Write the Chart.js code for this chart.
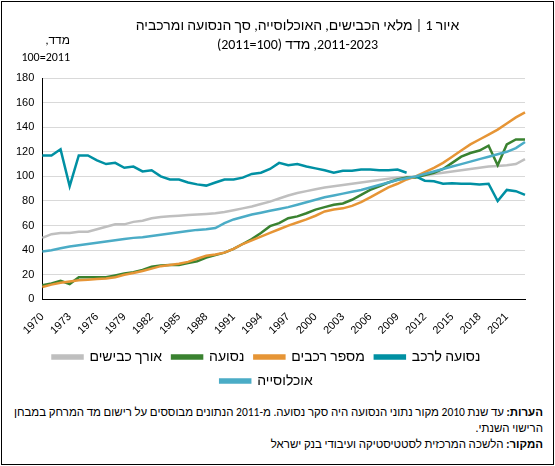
<!DOCTYPE html>
<html>
<head>
<meta charset="utf-8">
<script src="https://cdn.jsdelivr.net/npm/chart.js@4"></script>
<style>
  body { margin: 0; font-family: Calibri, "Liberation Sans", Arial, sans-serif; }
  #frame { position: relative; width: 551px; height: 462px; border: 1px solid #000; margin: 1px; }
  #wrap { position: absolute; left: 0; top: 0; width: 551px; height: 396px; }
  #title { position: absolute; left: 60px; right: 20px; top: 14px; direction: rtl; text-align: center; font-size: 14px; line-height: 19px; }
  #unit { position: absolute; left: 8px; top: 30px; font-size: 12px; line-height: 17px; direction: rtl; text-align: right; width: 60px; }
  #notes { position: absolute; right: 10px; top: 402px; width: 530px; direction: rtl; font-size: 11.5px; line-height: 16px; }
</style>
</head>
<body>
<div id="frame">
  <div id="wrap"><canvas id="chart"></canvas></div>
  <div id="title">איור 1 | מלאי הכבישים, האוכלוסייה, סך הנסועה ומרכביה<br>2011-2023, מדד (100=2011)</div>
  <div id="unit">מדד,<br><span dir="ltr">100=2011</span></div>
  <div id="notes">
    <div><b>הערות:</b> עד שנת 2010 מקור נתוני הנסועה היה סקר נסועה. מ-2011 הנתונים מבוססים על רישום מד המרחק במבחן הרישוי השנתי.</div>
    <div><b>המקור:</b> הלשכה המרכזית לסטטיסטיקה ועיבודי בנק ישראל</div>
  </div>
</div>
<script>
const years = []
for (let y = 1970; y <= 2023; y++) years.push(String(y))

const population = [39, 40, 41.5, 43, 44, 45, 46, 47, 48, 49, 50, 50.5, 51.5, 52.5, 53.5, 54.5, 55.5, 56.5, 57, 58,
  62, 65, 67, 69, 70.5, 72, 73.5, 75, 77, 79, 81, 83, 84.5, 86, 87.5, 89, 91, 93, 95, 97, 98.5,
  100, 102, 104, 106, 108, 110, 112, 114, 116, 118, 120, 123, 128]
const perVehicle = [117, 117, 122, 92, 117, 117, 113, 110, 111, 107, 108, 104, 105, 100, 97.5, 97.5, 95, 93.5, 92.5, 95,
  97.5, 97.5, 99, 102, 103, 106, 111, 109, 110, 108, 106.5, 105, 103, 104.5, 104.5, 105.5, 105.5, 105, 105, 105.5, 103,
  100, 96.5, 96, 94, 94.5, 94, 94, 93.5, 94, 80, 89, 88, 85]
const vehicles = [10, 12, 13.5, 14.5, 15.5, 16, 16.5, 17, 18, 20, 21.5, 23, 25, 27, 28, 29, 30.5, 33, 35.5, 36.5,
  38, 41, 45, 48, 51, 54, 57, 60, 62.5, 65, 68, 71.5, 73, 74, 76, 79, 83, 87, 91, 94, 97.5,
  100, 103.5, 107, 111, 116, 121, 126, 130, 134, 138, 143, 148, 152]
const travel = [11.5, 13, 15, 12.5, 18, 18, 18, 18, 19.5, 21, 22, 24, 26.5, 27.5, 28, 28, 29.5, 31, 34, 36,
  38, 41, 45, 49, 54, 59.5, 62, 66, 67.5, 70, 73, 75, 77, 78, 81, 85, 89, 92, 95, 97.5, 99,
  99, 101, 103, 106, 111, 116, 119, 121, 125, 109, 126, 130, 130]
const roadLength = [50, 53, 54, 54, 55, 55, 57, 59, 61, 61, 63, 64, 66, 67, 67.5, 68, 68.5, 69, 69.5, 70,
  71, 72.5, 74, 75.5, 77.5, 79.5, 82, 84.5, 86.5, 88, 89.5, 91, 92, 93, 94, 95, 96, 97, 98, 99, 99.5,
  100, 101, 102, 103, 104, 105, 106, 107, 108, 108.5, 109, 110, 114]

const line = (label, data, color) => ({
  label, data, borderColor: color, backgroundColor: color,
  borderWidth: 2.5, pointRadius: 0, tension: 0, fill: false
})

const datasets = [
  line('אוכלוסייה', population, '#4bacc6'),
  line('נסועה לרכב', perVehicle, '#0090a3'),
  line('מספר רכבים', vehicles, '#e69536'),
  line('נסועה', travel, '#3a8230'),
  line('אורך כבישים', roadLength, '#bfbfbf')
]
// break between the survey data (until 2010) and the odometer data (from 2011)
datasets[1].segment = {
  borderColor: ctx => ctx.p0DataIndex === 40 ? 'rgba(0,0,0,0)' : undefined
}

new Chart(document.getElementById('chart'), {
  type: 'line',
  data: { labels: years, datasets },
  options: {
    responsive: true,
    maintainAspectRatio: false,
    animation: false,
    layout: { padding: { left: 6, right: 28, top: 76 } },
    plugins: {
      legend: {
        position: 'bottom',
        reverse: true,
        labels: {
          color: '#000',
          boxWidth: 30, boxHeight: 3,
          font: { size: 14, family: 'Calibri, "Liberation Sans", Arial' }
        }
      },
      tooltip: { enabled: false }
    },
    scales: {
      x: {
        grid: { display: false },
        border: { color: '#000' },
        ticks: {
          autoSkip: false, maxRotation: 45, minRotation: 45, color: '#000',
          font: { size: 11 },
          callback: (v, i) => i % 3 === 0 ? years[i] : ''
        }
      },
      y: {
        min: 0, max: 180,
        grid: { color: '#d9d9d9', drawTicks: false },
        border: { color: '#000' },
        ticks: { stepSize: 20, color: '#000', font: { size: 11 }, padding: 8 }
      }
    }
  }
})
</script>
</body>
</html>
